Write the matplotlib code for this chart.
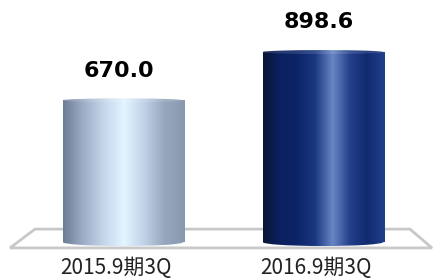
import numpy as np
import matplotlib
matplotlib.use("Agg")
import matplotlib.pyplot as plt
from matplotlib.patches import Rectangle, Ellipse, Polygon
from matplotlib.colors import LinearSegmentedColormap

categories = ["2015.9期3Q", "2016.9期3Q"]
values = [670.0, 898.6]
value_labels = ["670.0", "898.6"]

# side shading of each cylinder, left to right
light_cmap = LinearSegmentedColormap.from_list(
    "light", ["#6c7c95", "#9eaec6", "#c4d6ea", "#e2f5ff", "#c0d2e6", "#97a7bd", "#8898ae"])
dark_cmap = LinearSegmentedColormap.from_list(
    "dark", ["#081636", "#0b2160", "#0c2468", "#1a3880", "#6886c4", "#24408a", "#112a70", "#22408a"])
cmaps = [light_cmap, dark_cmap]

fig = plt.figure(figsize=(4.36, 2.79), dpi=100)
ax = fig.add_axes([0, 0, 1, 1])
ax.set_xlim(-0.615, 1.565)
ax.set_ylim(-175, 1145)
ax.axis("off")

x = np.arange(len(categories))
width = 0.605
eh = 38  # ellipse height in value units

# floor
floor = Polygon([(x[0] - 0.565, -28), (x[-1] + 0.545, -28),
                 (x[-1] + 0.435, 61), (x[0] - 0.44, 61)],
                closed=True, facecolor="white", edgecolor="#c8c8c8", lw=2, zorder=1)
ax.add_patch(floor)

grad = np.linspace(0, 1, 256).reshape(1, -1)
for xi, v, cm, lab in zip(x, values, cmaps, value_labels):
    left = xi - width / 2
    right = xi + width / 2
    body = Rectangle((left, 0), width, v, transform=ax.transData)
    bottom = Ellipse((xi, 0), width, eh, transform=ax.transData)
    top = Ellipse((xi, v), width, eh * 0.5, transform=ax.transData)
    for clip in (body, bottom, top):
        im = ax.imshow(grad, cmap=cm, extent=(left, right, -eh, v + eh), aspect="auto",
                       interpolation="bilinear", zorder=2)
        im.set_clip_path(clip)
    ax.add_patch(Ellipse((xi, v), width, eh * 0.5, facecolor="white",
                         edgecolor="none", alpha=0.12, zorder=4))
    ax.text(xi - 0.02, v + 140, lab, ha="center", va="center",
            fontsize=16, fontweight="bold", family="DejaVu Sans", color="black")

for xi, c in zip(x, categories):
    ax.text(xi - 0.035, -122, c, ha="center", va="center", fontsize=15,
            family=["Noto Sans CJK JP", "DejaVu Sans"], color="#222222")

ax.set_xlim(-0.615, 1.565)
ax.set_ylim(-175, 1145)
fig.savefig("out.png", dpi=100)
